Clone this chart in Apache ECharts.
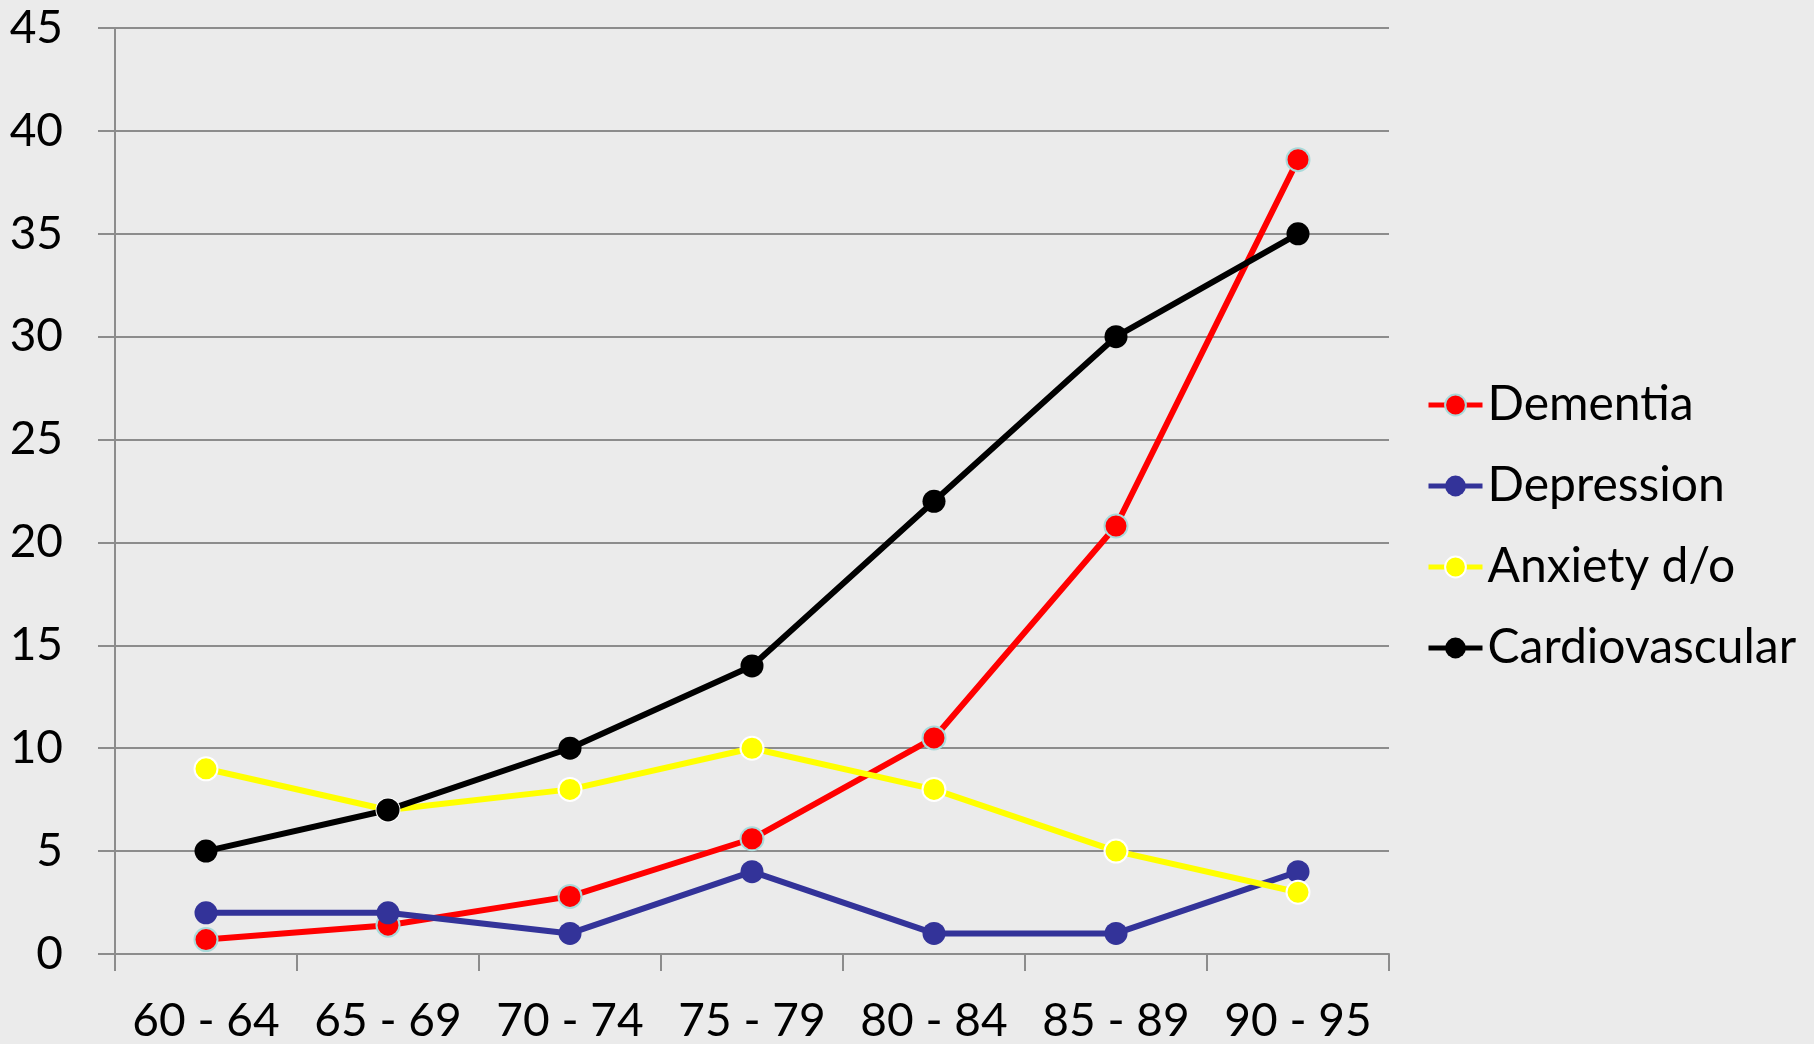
<!DOCTYPE html>
<html>
<head>
<meta charset="utf-8">
<script src="https://cdn.jsdelivr.net/npm/echarts@6/dist/echarts.min.js"></script>
<style>
html,body{margin:0;padding:0;background:#ebebeb;}
#c{width:1814px;height:1044px;}
</style>
</head>
<body>
<div id="c"></div>
<script>
const categories = ['60 - 64','65 - 69','70 - 74','75 - 79','80 - 84','85 - 89','90 - 95'];
const dementia = [0.7, 1.4, 2.8, 5.6, 10.5, 20.8, 38.6];
const depression = [2, 2, 1, 4, 1, 1, 4];
const anxiety = [9, 7, 8, 10, 8, 5, 3];
const cardiovascular = [5, 7, 10, 14, 22, 30, 35];
const yTicks = {min: 0, max: 45, interval: 5};

const FONT = 'Lato';
const gray = '#8c8c8c';

function mk(name, data, color, border, bw) {
  return {
    name, type: 'line', data,
    symbol: 'circle', symbolSize: 23,
    lineStyle: {color, width: 6},
    itemStyle: {color, borderColor: border, borderWidth: bw},
    emphasis: {disabled: true},
    animation: false
  };
}

const chart = echarts.init(document.getElementById('c'));
chart.setOption({
  backgroundColor: '#ebebeb',
  animation: false,
  grid: {left: 115, right: 425, top: 28, bottom: 90},
  legend: {
    orient: 'vertical',
    left: 1421, top: 376,
    itemWidth: 54, itemHeight: 26, itemGap: 33,
    lineStyle: {width: 5},
    textStyle: {fontFamily: FONT, fontSize: 48, color: '#000'},
    data: ['Dementia','Depression','Anxiety d/o','Cardiovascular']
  },
  xAxis: {
    type: 'category', data: categories, boundaryGap: true,
    axisLine: {lineStyle: {color: gray, width: 2}},
    axisTick: {show: true, length: 17, lineStyle: {color: gray, width: 2}},
    axisLabel: {fontFamily: FONT, fontSize: 46, color: '#000', margin: 44, interval: 0},
    splitLine: {show: false}
  },
  yAxis: {
    type: 'value', min: yTicks.min, max: yTicks.max, interval: yTicks.interval,
    axisLine: {show: true, lineStyle: {color: gray, width: 2}},
    axisTick: {show: true, length: 17, lineStyle: {color: gray, width: 2}},
    axisLabel: {fontFamily: FONT, fontSize: 46, color: '#000', margin: 52},
    splitLine: {show: true, lineStyle: {color: gray, width: 2}}
  },
  series: [
    mk('Dementia', dementia, '#ff0000', '#a9dada', 2),
    mk('Depression', depression, '#333399', '#333399', 0),
    mk('Anxiety d/o', anxiety, '#ffff00', '#ffffff', 2),
    mk('Cardiovascular', cardiovascular, '#000000', '#000000', 0)
  ]
});
</script>
</body>
</html>
